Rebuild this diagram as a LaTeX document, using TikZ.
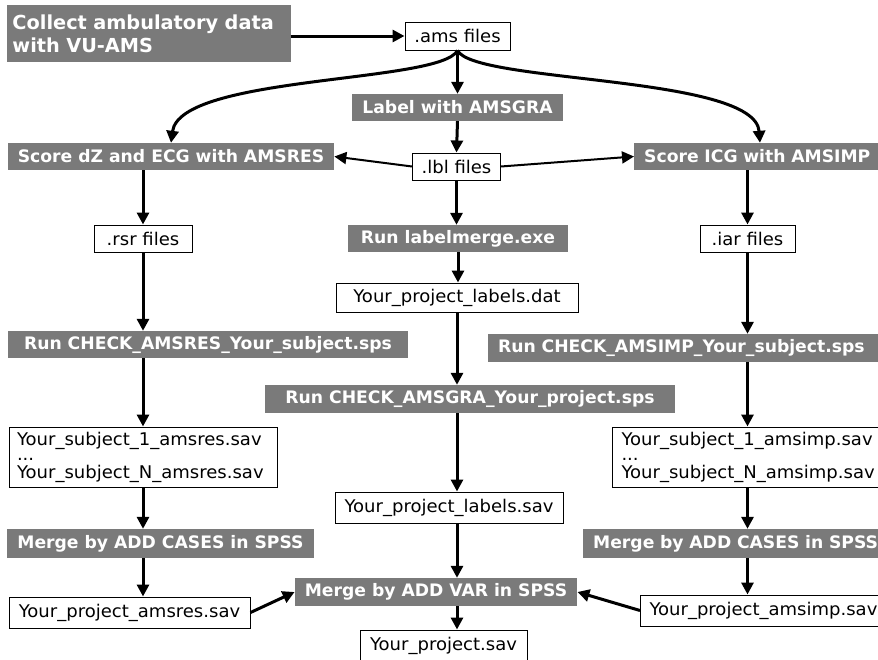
\documentclass[tikz,border=0pt]{standalone}
\usepackage{fontspec}
\setmainfont{DejaVu Sans}
\newfontfamily\filefont{DejaVu Sans}[FakeStretch=1.03]
\usetikzlibrary{arrows.meta, positioning}
\definecolor{BoxGray}{RGB}{122,122,122}

\tikzset{
  graybox/.style={fill=BoxGray, text=white, font=\fontsize{17.2}{20}\selectfont\bfseries,
    inner xsep=10pt, inner ysep=0pt, minimum height=27pt},
  filebox/.style={draw, line width=1pt, fill=white, font=\filefont\fontsize{17.5}{21}\selectfont,
    inner xsep=9pt, inner ysep=0pt, minimum height=28pt},
  flow/.style={line width=3pt, -{Triangle[length=12pt,width=12pt]}},
}

\begin{document}
\begin{tikzpicture}[x=1pt, y=-1pt]
  \useasboundingbox (0,0) rectangle (878,659);
  \clip (0,0) rectangle (878,659);

  % top row
  \node[graybox, font=\fontsize{19.3}{23}\selectfont\bfseries, text width=272pt, align=left,
    inner xsep=6pt, minimum height=57pt] (collect) at (148.5,33.5) {Collect ambulatory data\\with VU-AMS};
  \node[filebox, minimum width=105pt] (ams) at (457.5,36) {.ams files};
  \node[graybox, minimum width=191pt] (label) at (457.5,107.5) {Label with AMSGRA};
  \node[filebox, minimum width=87pt, minimum height=27pt] (lbl) at (456.5,166.5) {.lbl files};
  \node[graybox, minimum width=326pt] (scoreres) at (171,156.5) {Score dZ and ECG with AMSRES};
  \node[graybox, anchor=west, text width=250pt, align=left] (scoreimp) at (634,156.5) {Score ICG with AMSIMP};

  % files
  \node[filebox, minimum width=98pt, minimum height=27pt] (rsr) at (143,238.5) {.rsr files};
  \node[graybox, minimum width=220pt] (labelmerge) at (458,238.5) {Run labelmerge.exe};
  \node[filebox, minimum width=95pt, minimum height=27pt] (iar) at (747.5,238.5) {.iar files};
  \node[filebox, minimum width=242pt, minimum height=29pt] (labdat) at (457,297.5) {Your\_project\_labels.dat};

  % check scripts
  \node[graybox, minimum width=400pt] (chkres) at (208,344.5) {Run CHECK\_AMSRES\_Your\_subject.sps};
  \node[graybox, minimum width=410pt, minimum height=28pt] (chkgra) at (470,399) {Run CHECK\_AMSGRA\_Your\_project.sps};
  \node[graybox, anchor=west, text width=400pt, align=left, minimum height=28pt] (chkimp) at (488,348) {Run CHECK\_AMSIMP\_Your\_subject.sps};

  % subject files
  \node[filebox, text width=252pt, align=left, minimum height=60pt, inner xsep=8pt] (resfiles) at (143,457)
    {Your\_subject\_1\_amsres.sav\\[-6pt]...\\[-3pt]Your\_subject\_N\_amsres.sav};
  \node[filebox, anchor=west, text width=270pt, align=left, minimum height=60pt, inner xsep=9pt] (impfiles) at (612,457)
    {Your\_subject\_1\_amsimp.sav\\[-6pt]...\\[-3pt]Your\_subject\_N\_amsimp.sav};
  \node[filebox, minimum width=228pt, minimum height=31pt] (labsav) at (449,507.5) {Your\_project\_labels.sav};

  % merging
  \node[graybox, minimum width=305pt, minimum height=29pt] (mergeres) at (160.5,543.5) {Merge by ADD CASES in SPSS};
  \node[graybox, anchor=west, text width=290pt, align=left, minimum height=29pt] (mergeimp) at (583,543.5) {Merge by ADD CASES in SPSS};
  \node[filebox, minimum width=241pt, minimum height=31pt] (projres) at (129.5,612.5) {Your\_project\_amsres.sav};
  \node[graybox, minimum width=282pt, minimum height=28pt] (addvar) at (436,592) {Merge by ADD VAR in SPSS};
  \node[filebox, anchor=west, text width=250pt, align=left, minimum height=31pt] (projimp) at (640,610.5) {Your\_project\_amsimp.sav};
  \node[filebox, minimum width=167pt, minimum height=32pt] (projsav) at (443.5,646) {Your\_project.sav};

  % connectors
  \draw[flow] (collect.east |- ams) -- (ams.west);
  \draw[flow] (ams.south) -- (label.north);
  \draw[flow] (ams.south) .. controls +(-17,33) and +(9,-68) .. (scoreres.north);
  \draw[flow] (ams.south) .. controls +(17,33) and +(-5,-68) .. ([xshift=126pt]scoreimp.north west);
  \draw[flow] (label.south) -- (lbl.north);
  \draw[flow, line width=2pt] (lbl.west) -- (scoreres.east);
  \draw[flow, line width=2pt] (lbl.east) -- (scoreimp.west);
  \draw[flow] (scoreres.south -| rsr) -- (rsr.north);
  \draw[flow] (lbl.south) -- (labelmerge.north -| lbl);
  \draw[flow] (scoreimp.south -| iar) -- (iar.north);
  \draw[flow] (rsr.south) -- (chkres.north -| rsr);
  \draw[flow] (labelmerge.south) -- (labdat.north -| labelmerge);
  \draw[flow] (iar.south) -- (chkimp.north -| iar);
  \draw[flow] (labdat.south) -- (chkgra.north -| labdat);
  \draw[flow] (chkres.south -| resfiles) -- (resfiles.north);
  \draw[flow] (chkgra.south -| labdat) -- (labsav.north -| labdat);
  \draw[flow] (chkimp.south -| iar) -- (impfiles.north -| iar);
  \draw[flow] (resfiles.south) -- (mergeres.north -| resfiles);
  \draw[flow] (impfiles.south -| iar) -- (mergeimp.north -| iar);
  \draw[flow] (labsav.south -| labdat) -- (addvar.north -| labdat);
  \draw[flow] (mergeres.south -| resfiles) -- (projres.north -| resfiles);
  \draw[flow] (mergeimp.south -| iar) -- (projimp.north -| iar);
  \draw[flow] (projres.east) -- (addvar.west);
  \draw[flow] (projimp.west) -- (addvar.east);
  \draw[flow] (addvar.south -| labdat) -- (projsav.north -| labdat);
\end{tikzpicture}
\end{document}
